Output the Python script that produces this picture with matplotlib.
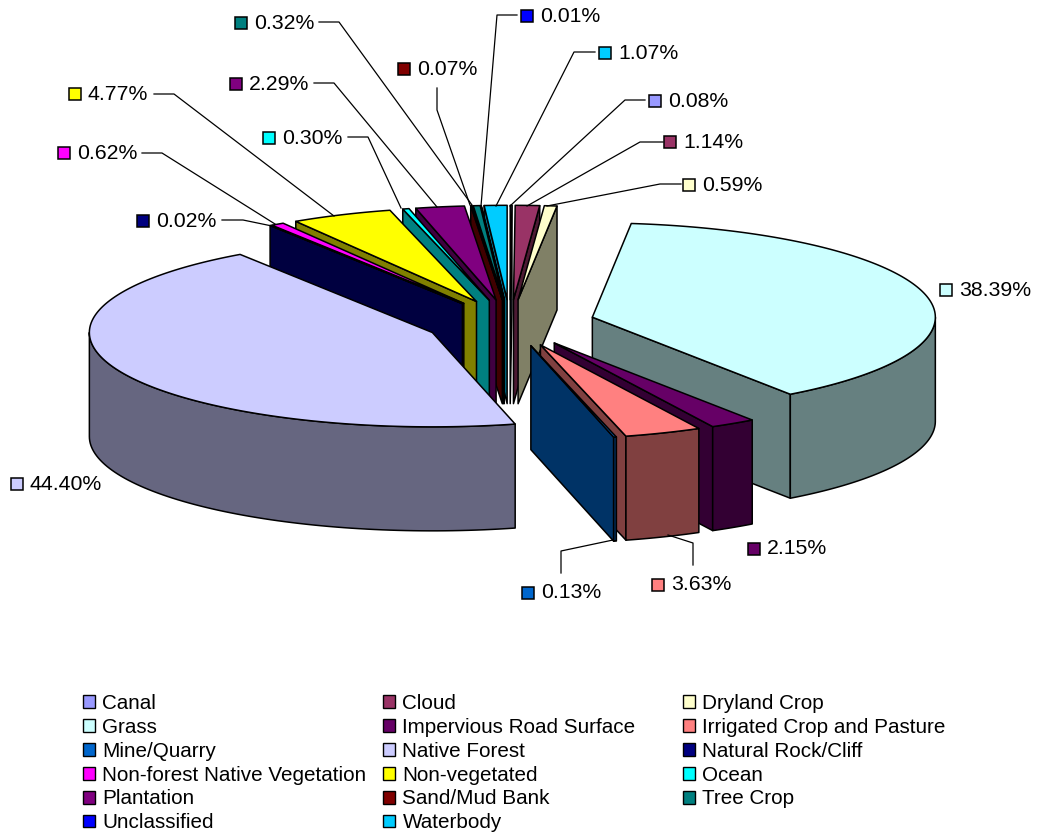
#%% imports
import matplotlib
matplotlib.use("Agg")
import matplotlib.pyplot as plt
from matplotlib.patches import Patch, Polygon
from matplotlib.colors import to_rgb
import numpy as np

plt.rcParams['font.family'] = ['Liberation Sans', 'DejaVu Sans']

#%% data
names = ["Canal", "Cloud", "Dryland Crop", "Grass", "Impervious Road Surface",
         "Irrigated Crop and Pasture", "Mine/Quarry", "Native Forest",
         "Natural Rock/Cliff", "Non-forest Native Vegetation", "Non-vegetated",
         "Ocean", "Plantation", "Sand/Mud Bank", "Tree Crop", "Unclassified",
         "Waterbody"]
shares = [0.08, 1.14, 0.59, 38.39, 2.15, 3.63, 0.13, 44.40, 0.02, 0.62, 4.77,
          0.30, 2.29, 0.07, 0.32, 0.01, 1.07]
colors = ["#9999FF", "#993366", "#FFFFCC", "#CCFFFF", "#660066", "#FF8080",
          "#0066CC", "#CCCCFF", "#000080", "#FF00FF", "#FFFF00", "#00FFFF",
          "#800080", "#800000", "#008080", "#0000FF", "#00CCFF"]

#%% layout (pixels of the figure)
cx, cy = 510, 323     # pie centre
R = 343               # radius
squash = 0.275        # y/x of the tilted disc
explode = 85          # how far each slice is pulled out
depth = 104           # wall height

# marker x, marker y, then the leader line (None = no leader)
label_pos = [
    (655, 101, [(645, 100), (625, 100), (510, 206)]),
    (670, 142, [(663, 142), (640, 142), (527, 206)]),
    (689, 185, [(681, 184), (660, 184), (547, 206)]),
    (946, 290, None),
    (754, 549, None),
    (658, 585, [(693, 565), (693, 543), (668, 535)]),
    (528, 593, [(561, 573), (561, 551), (613, 540)]),
    (17, 484, None),
    (143, 221, [(222, 220), (243, 220), (272, 226)]),
    (64, 153, [(142, 153), (162, 153), (275, 224)]),
    (75, 94, [(154, 94), (174, 94), (334, 216)]),
    (269, 138, [(348, 137), (368, 137), (401, 208)]),
    (236, 84, [(314, 83), (334, 83), (437, 207)]),
    (404, 69, [(437, 88), (437, 110), (470, 205)]),
    (241, 23, [(319, 22), (339, 22), (472, 205)]),
    (527, 16, [(517, 15), (497, 15), (481, 206)]),
    (605, 53, [(595, 52), (574, 52), (496, 206)]),
]
legend_x = [83, 383, 683]
legend_y = 694

#%% figure
fig = plt.figure(figsize=(10.38, 8.34), dpi=100)
ax = fig.add_axes([0, 0, 1, 1])
ax.set_xlim(0, 1038)
ax.set_ylim(834, 0)
ax.axis("off")


def rim(theta, ax0, ay0):
    # point on the slice's rim, theta clockwise from 12 o'clock
    return np.column_stack([ax0 + R*np.sin(theta), ay0 - R*squash*np.cos(theta)])


def face(pts, color, z):
    ax.add_patch(Polygon(pts, closed=True, facecolor=color, edgecolor="k",
                         lw=1.1, joinstyle="round", zorder=z))


def dark(c):
    return tuple(0.5*v for v in to_rgb(c))


#%% slices, painted back to front
edges = np.cumsum([0] + shares)/sum(shares)*2*np.pi
mids = (edges[:-1] + edges[1:])/2
order = np.argsort(-np.cos(mids))

z = 2
for i in order:
    t0, t1, tm = edges[i], edges[i+1], mids[i]
    ax0 = cx + explode*np.sin(tm)
    ay0 = cy - explode*squash*np.cos(tm)
    apex = np.array([ax0, ay0])
    down = np.array([0, depth])
    c = colors[i]

    # radial walls facing the viewer
    if np.sin(t0) < 0:
        p = rim(np.array([t0]), ax0, ay0)[0]
        face([apex, p, p+down, apex+down], dark(c), z)
    if np.sin(t1) > 0:
        p = rim(np.array([t1]), ax0, ay0)[0]
        face([apex, p, p+down, apex+down], dark(c), z)

    # outer wall, front half of the rim only
    lo, hi = max(t0, np.pi/2), min(t1, 3*np.pi/2)
    if hi > lo:
        arc = rim(np.linspace(lo, hi, 80), ax0, ay0)
        face(np.vstack([arc, (arc + down)[::-1]]), dark(c), z)

    # top
    arc = rim(np.linspace(t0, t1, max(int((t1-t0)*60), 3)), ax0, ay0)
    face(np.vstack([apex, arc]), c, z + 0.5)
    z += 1

#%% data labels and leaders
for v, c, (mx, my, leader) in zip(shares, colors, label_pos):
    ax.plot(mx, my, "s", ms=8, mfc=c, mec="k", mew=1.1, zorder=50)
    ax.text(mx + 13, my, f"{v:.2f}%", fontsize=15.3, va="center", ha="left", zorder=50)
    if leader is not None:
        xs, ys = zip(*leader)
        ax.plot(xs, ys, color="k", lw=0.9, zorder=60)

#%% legend, three columns filled row by row like the original
for col, lx in enumerate(legend_x):
    handles = [Patch(facecolor=c, edgecolor="k", lw=1.0) for c in colors[col::3]]
    leg = ax.legend(handles, names[col::3], loc="upper left",
                    bbox_to_anchor=(lx, legend_y), bbox_transform=ax.transData,
                    frameon=False, fontsize=14.9,
                    handlelength=0.58, handleheight=0.58,
                    handletextpad=0.36, labelspacing=0.235,
                    borderpad=0, borderaxespad=0)
    if col < len(legend_x) - 1:   # the last one stays as ax's own legend
        ax.add_artist(leg)

fig.savefig("out.png", dpi=100)
